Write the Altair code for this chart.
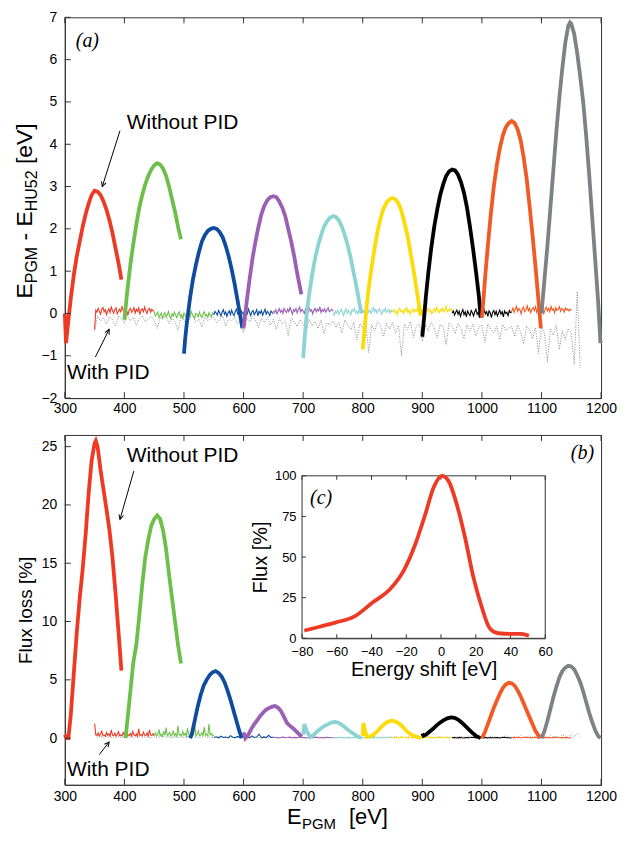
import altair as alt
import pandas as pd

FONT = "Liberation Sans"
SERIF = "Liberation Serif"

# ---------------- axis ticks ----------------
XT = [300, 400, 500, 600, 700, 800, 900, 1000, 1100, 1200]
YT_TOP = [-2, -1, 0, 1, 2, 3, 4, 5, 6, 7]
YT_BOT = [0, 5, 10, 15, 20, 25]
INSET_XT = [-80, -60, -40, -20, 0, 20, 40, 60]
INSET_YT = [0, 25, 50, 75, 100]

SEGS = ["300", "400", "500", "600", "700", "800", "900", "1000", "1100"]
COLORS = ["#ee3a24", "#6dbf4b", "#0f4c9f", "#9b5fb4", "#8dd3d4",
          "#fbdc0a", "#000000", "#f15a24", "#7f8285"]

# ---------------- panel (a): without PID ----------------
A300_X = [300, 302, 305, 310, 315, 320, 325, 330, 335, 340, 345, 350, 355, 360, 365, 370, 375, 380, 385, 390, 395]
A300_Y = [0.0, -0.7, -0.3, 0.35, 0.9, 1.35, 1.7, 2.05, 2.35, 2.6, 2.8, 2.9, 2.88, 2.8, 2.65, 2.45, 2.2, 1.9, 1.55, 1.2, 0.8]
A400_X = [400, 405, 410, 415, 420, 425, 430, 435, 440, 445, 450, 455, 460, 465, 470, 475, 480, 485, 490, 495]
A400_Y = [-0.15, 0.55, 1.15, 1.65, 2.1, 2.5, 2.8, 3.05, 3.25, 3.4, 3.5, 3.55, 3.52, 3.42, 3.25, 3.0, 2.7, 2.4, 2.05, 1.75]
A500_X = [500, 502, 505, 510, 515, 520, 525, 530, 535, 540, 545, 550, 555, 560, 565, 570, 575, 580, 585, 590, 595, 598]
A500_Y = [-0.95, -0.6, -0.2, 0.35, 0.8, 1.15, 1.45, 1.7, 1.85, 1.95, 2.0, 2.02, 2.0, 1.92, 1.8, 1.6, 1.35, 1.05, 0.7, 0.3, -0.1, -0.35]
A600_X = [600, 605, 610, 615, 620, 625, 630, 635, 640, 645, 650, 655, 660, 665, 670, 675, 680, 685, 690, 697]
A600_Y = [-0.35, 0.25, 0.8, 1.3, 1.7, 2.05, 2.35, 2.55, 2.68, 2.75, 2.77, 2.75, 2.65, 2.5, 2.3, 2.0, 1.7, 1.35, 0.95, 0.45]
A700_X = [700, 703, 706, 710, 715, 720, 725, 730, 735, 740, 745, 750, 755, 760, 765, 770, 775, 780, 785, 790, 795, 798]
A700_Y = [-1.05, -0.5, 0.0, 0.45, 0.9, 1.3, 1.6, 1.85, 2.05, 2.18, 2.26, 2.3, 2.28, 2.2, 2.05, 1.85, 1.6, 1.3, 0.95, 0.6, 0.2, 0.0]
A800_X = [800, 803, 806, 810, 815, 820, 825, 830, 835, 840, 845, 850, 855, 860, 865, 870, 875, 880, 885, 890, 895, 898]
A800_Y = [-0.85, -0.4, 0.1, 0.6, 1.1, 1.55, 1.95, 2.25, 2.48, 2.62, 2.7, 2.73, 2.7, 2.6, 2.42, 2.15, 1.85, 1.45, 1.05, 0.6, 0.15, -0.05]
A900_X = [900, 903, 906, 910, 915, 920, 925, 930, 935, 940, 945, 950, 955, 960, 965, 970, 975, 980, 985, 990, 995, 998]
A900_Y = [-0.55, -0.1, 0.4, 0.95, 1.55, 2.05, 2.45, 2.8, 3.05, 3.25, 3.36, 3.4, 3.38, 3.28, 3.1, 2.85, 2.5, 2.05, 1.55, 1.0, 0.4, -0.1]
A1000_X = [1000, 1003, 1006, 1010, 1015, 1020, 1025, 1030, 1035, 1040, 1045, 1050, 1055, 1060, 1065, 1070, 1075, 1080, 1085, 1090, 1095, 1099]
A1000_Y = [-0.1, 0.4, 0.95, 1.6, 2.35, 3.0, 3.5, 3.9, 4.2, 4.4, 4.5, 4.55, 4.5, 4.35, 4.1, 3.7, 3.2, 2.55, 1.85, 1.1, 0.3, -0.35]
A1100_X = [1100, 1105, 1110, 1115, 1120, 1125, 1130, 1135, 1140, 1145, 1148, 1150, 1155, 1160, 1165, 1170, 1175, 1180, 1185, 1190, 1195, 1199]
A1100_Y = [0.0, 0.8, 1.6, 2.5, 3.4, 4.3, 5.1, 5.8, 6.4, 6.8, 6.88, 6.85, 6.6, 6.15, 5.6, 5.0, 4.2, 3.3, 2.3, 1.3, 0.3, -0.7]

# ---------------- panel (a): with PID (noisy traces, E0+50 .. E0+150) ----------------
P300_Y = [-0.38, 0.08, 0.03, 0.12, 0.05, -0.02, 0.10, 0.14, 0.04, 0.09, -0.03, 0.06, 0.11, 0.02, 0.15, 0.07, 0.01, 0.09, 0.13, -0.01, 0.05, 0.10, 0.04, 0.16, 0.08, 0.02, 0.11, 0.06, -0.04, 0.09, 0.12, 0.03, 0.07, 0.14, 0.01, 0.10, 0.05, 0.13, -0.02, 0.08, 0.11, 0.04, 0.15, 0.06, 0.00, 0.09, 0.12, 0.03, 0.10, 0.07, 0.05]
P400_Y = [0.04, -0.06, -0.02, 0.03, -0.09, -0.04, 0.01, -0.11, -0.05, 0.02, -0.08, -0.03, 0.05, -0.07, -0.12, -0.01, -0.06, 0.03, -0.04, -0.10, -0.02, 0.04, -0.07, -0.03, -0.13, 0.01, -0.05, -0.09, 0.02, -0.04, -0.08, 0.05, -0.02, -0.06, -0.11, 0.00, -0.03, -0.08, 0.03, -0.05, -0.10, -0.01, 0.04, -0.06, -0.03, -0.09, 0.02, -0.04, -0.07, 0.01, -0.03]
P500_Y = [-0.03, 0.05, 0.01, -0.04, 0.07, 0.02, -0.06, 0.03, 0.09, -0.02, 0.04, -0.07, 0.01, 0.06, -0.03, 0.08, 0.00, -0.05, 0.05, 0.10, -0.01, 0.03, -0.06, 0.06, 0.02, -0.04, 0.08, 0.01, -0.02, 0.11, 0.03, -0.05, 0.04, 0.07, -0.03, 0.02, 0.09, -0.06, 0.05, 0.00, 0.07, -0.04, 0.03, 0.10, -0.02, 0.05, 0.01, -0.05, 0.06, 0.02, -0.01]
P600_Y = [0.06, 0.02, 0.09, -0.01, 0.05, 0.11, 0.03, 0.08, 0.00, 0.12, 0.06, 0.02, 0.10, 0.04, 0.14, 0.07, -0.02, 0.09, 0.05, 0.12, 0.01, 0.08, 0.15, 0.04, 0.10, 0.06, 0.00, 0.11, 0.07, 0.03, 0.13, 0.05, 0.09, -0.01, 0.08, 0.12, 0.04, 0.10, 0.06, 0.16, 0.02, 0.09, 0.05, 0.11, 0.03, 0.08, 0.13, 0.04, 0.07, 0.10, 0.05]
P700_Y = [0.02, -0.04, 0.05, 0.01, 0.08, -0.02, 0.04, 0.10, 0.03, -0.05, 0.06, 0.11, 0.00, 0.07, 0.03, -0.03, 0.09, 0.05, 0.12, 0.01, 0.06, -0.01, 0.08, 0.04, 0.13, 0.02, 0.07, -0.04, 0.05, 0.10, 0.03, 0.08, 0.00, 0.06, 0.14, 0.04, 0.09, 0.01, 0.07, 0.11, 0.03, -0.02, 0.08, 0.05, 0.12, 0.02, 0.06, 0.09, 0.01, 0.07, 0.04]
P800_Y = [0.03, 0.09, 0.01, 0.06, -0.03, 0.08, 0.12, 0.04, 0.07, 0.00, 0.10, 0.05, 0.14, 0.02, 0.08, -0.02, 0.06, 0.11, 0.03, 0.09, 0.05, 0.13, 0.01, 0.07, 0.10, 0.04, 0.16, 0.06, 0.02, 0.09, 0.12, 0.03, 0.08, -0.01, 0.06, 0.11, 0.04, 0.15, 0.07, 0.02, 0.10, 0.05, 0.13, 0.03, 0.08, 0.17, 0.04, 0.09, 0.06, 0.12, 0.05]
P900_Y = [0.01, 0.06, -0.04, 0.03, 0.08, -0.02, 0.05, -0.07, 0.02, 0.09, -0.03, 0.04, -0.08, 0.06, 0.00, -0.05, 0.07, 0.02, -0.06, 0.04, 0.10, -0.02, 0.03, -0.09, 0.05, 0.01, -0.04, 0.08, -0.01, 0.04, -0.07, 0.06, 0.02, -0.10, 0.03, 0.07, -0.03, 0.05, -0.06, 0.01, 0.08, -0.02, 0.04, -0.08, 0.06, 0.00, 0.03, -0.05, 0.07, 0.02, 0.04]
P1000_Y = [0.06, 0.13, 0.03, 0.10, 0.17, 0.05, 0.12, 0.08, -0.01, 0.11, 0.15, 0.04, 0.09, 0.18, 0.06, 0.12, 0.02, 0.10, 0.14, 0.07, 0.16, 0.03, 0.11, 0.08, 0.19, 0.05, 0.13, 0.00, 0.09, 0.15, 0.06, 0.12, 0.04, 0.17, 0.08, 0.11, 0.02, 0.14, 0.07, 0.10, 0.16, 0.05, 0.12, 0.09, 0.03, 0.13, 0.08, 0.11, 0.06, 0.10, 0.07]
GRAY_TOP_Y = [
    -0.42, -0.05, -0.18, -0.10, -0.25, -0.08, -0.15, -0.30, -0.06, -0.12, -0.22, -0.04, -0.17, -0.09, -0.28, -0.11, -0.05, -0.20, -0.13, -0.07,
    -0.16, -0.35, -0.09, -0.14, -0.06, -0.24, -0.12, -0.19, -0.40, -0.08, -0.15, -0.27, -0.10, -0.05, -0.21, -0.13, -0.32, -0.07, -0.18, -0.11,
    -0.09, -0.23, -0.14, -0.06, -0.30, -0.12, -0.18, -0.08, -0.26, -0.15, -0.45, -0.10, -0.20, -0.07, -0.16, -0.34, -0.11, -0.22, -0.09, -0.28,
    -0.14, -0.38, -0.12, -0.25, -0.18, -0.52, -0.10, -0.20, -0.31, -0.15, -0.24, -0.44, -0.13, -0.29, -0.19, -0.36, -0.16, -0.48, -0.22, -0.27,
    -0.18, -0.33, -0.21, -0.46, -0.15, -0.28, -0.39, -0.20, -0.62, -0.24, -0.35, -0.17, -0.92, -0.26, -0.41, -0.19, -0.30, -0.55, -0.23, -0.37,
    -0.21, -0.46, -0.28, -1.00, -0.25, -0.38, -0.19, -0.57, -0.30, -0.24, -0.66, -0.27, -0.42, -0.20, -0.35, -0.58, -0.26, -0.31, -0.74, -0.22,
    -0.29, -0.48, -0.23, -0.36, -0.60, -0.27, -0.41, -0.25, -0.53, -0.32, -0.28, -0.69, -0.24, -0.38, -0.45, -0.30, -0.62, -0.26, -0.40, -0.34,
    -0.31, -0.55, -0.27, -0.44, -0.72, -0.29, -0.38, -0.60, -0.33, -0.95, -0.30, -0.48, -1.15, -0.35, -0.52, -0.28, -0.85, -0.41, -0.62, -0.36,
    -0.45, -1.20, 0.52, -1.28]

# ---------------- panel (b): without PID ----------------
B300_X = [300, 302, 304, 306, 310, 315, 320, 325, 330, 335, 340, 345, 350, 352, 355, 360, 365, 370, 375, 380, 385, 390, 395]
B300_Y = [0.3, 0.1, 0.0, 0.0, 2.0, 5.5, 9.0, 12.0, 14.5, 17.5, 21.0, 23.8, 25.3, 25.5, 25.0, 23.0, 21.3, 19.6, 17.8, 15.5, 12.5, 9.2, 5.8]
B400_X = [402, 405, 410, 415, 420, 425, 430, 435, 440, 445, 450, 455, 460, 465, 470, 475, 480, 485, 490, 495]
B400_Y = [0.0, 1.5, 4.0, 6.5, 8.0, 10.5, 13.2, 15.5, 17.0, 18.2, 18.8, 19.1, 18.8, 17.8, 16.2, 14.0, 12.0, 10.0, 8.0, 6.4]
B500_X = [510, 513, 518, 523, 528, 533, 538, 543, 548, 553, 558, 563, 568, 573, 578, 583, 588, 593, 597]
B500_Y = [0.0, 0.3, 1.5, 2.7, 3.7, 4.5, 5.0, 5.4, 5.65, 5.75, 5.6, 5.3, 4.8, 4.1, 3.3, 2.4, 1.5, 0.6, 0.0]
B600_X = [600, 603, 608, 613, 618, 623, 628, 633, 638, 643, 648, 653, 658, 663, 668, 673, 678, 683, 688, 693, 698]
B600_Y = [0.5, 0.0, 0.3, 0.8, 1.2, 1.55, 1.9, 2.2, 2.45, 2.6, 2.7, 2.75, 2.6, 2.3, 1.8, 1.3, 1.05, 0.85, 0.6, 0.35, 0.15]
B700_X = [700, 702, 706, 712, 718, 724, 730, 736, 742, 748, 754, 760, 766, 772, 778, 784, 790, 798]
B700_Y = [0.3, 1.2, 0.6, 0.1, 0.3, 0.6, 0.85, 1.05, 1.2, 1.35, 1.4, 1.3, 1.1, 0.85, 0.6, 0.4, 0.2, 0.0]
B800_X = [800, 801, 804, 807, 812, 818, 824, 830, 836, 842, 848, 854, 860, 866, 872, 878, 884, 890, 898]
B800_Y = [0.2, 1.3, 0.6, 0.1, 0.15, 0.3, 0.55, 0.9, 1.2, 1.4, 1.5, 1.45, 1.3, 1.05, 0.7, 0.4, 0.25, 0.12, 0.0]
B900_X = [900, 902, 906, 912, 918, 924, 930, 936, 942, 948, 954, 960, 966, 972, 978, 984, 990, 998]
B900_Y = [0.4, 0.2, 0.3, 0.55, 0.8, 1.1, 1.35, 1.55, 1.7, 1.78, 1.75, 1.6, 1.35, 1.05, 0.75, 0.45, 0.2, 0.0]
B1000_X = [1000, 1005, 1010, 1015, 1020, 1025, 1030, 1035, 1040, 1045, 1050, 1055, 1060, 1065, 1070, 1075, 1080, 1085, 1090, 1098]
B1000_Y = [0.0, 0.5, 1.2, 1.9, 2.6, 3.2, 3.8, 4.3, 4.6, 4.75, 4.7, 4.5, 4.1, 3.6, 3.0, 2.4, 1.8, 1.2, 0.6, 0.0]
B1100_X = [1100, 1105, 1110, 1115, 1120, 1125, 1130, 1135, 1140, 1145, 1150, 1155, 1160, 1165, 1170, 1175, 1180, 1185, 1190, 1195, 1199]
B1100_Y = [0.0, 0.6, 1.5, 2.5, 3.5, 4.4, 5.2, 5.75, 6.05, 6.2, 6.15, 5.9, 5.4, 4.8, 4.0, 3.1, 2.2, 1.4, 0.7, 0.2, 0.0]

# ---------------- panel (b): with PID ----------------
Q300_Y = [1.25, 0.30, 0.22, 0.45, 0.18, 0.35, 0.60, 0.20, 0.28, 0.15, 0.50, 0.24, 0.38, 0.17, 0.72, 0.26, 0.20, 0.42, 0.16, 0.33, 0.55, 0.21, 0.29, 0.18, 0.48, 0.25, 0.65, 0.19, 0.31, 0.22, 0.40, 0.17, 0.58, 0.27, 0.20, 0.36, 0.15, 0.80, 0.24, 0.30, 0.19, 0.52, 0.26, 0.21, 0.44, 0.18, 0.70, 0.28, 0.23, 0.37, 0.20]
Q400_Y = [0.22, 0.45, 0.18, 0.30, 0.75, 0.20, 0.35, 0.16, 0.55, 0.25, 0.90, 0.19, 0.32, 0.48, 0.17, 0.28, 0.65, 0.21, 0.38, 0.15, 1.05, 0.26, 0.33, 0.19, 0.58, 0.24, 0.42, 0.16, 0.85, 0.29, 0.20, 0.50, 0.23, 0.36, 1.15, 0.18, 0.31, 0.62, 0.22, 0.27, 0.45, 0.17, 0.95, 0.25, 0.34, 0.20, 1.20, 0.28, 0.40, 0.19, 0.30]
Q500_Y = [0.05, 0.12, 0.03, 0.18, 0.06, 0.10, 0.02, 0.22, 0.08, 0.04, 0.15, 0.05, 0.30, 0.07, 0.12, 0.03, 0.20, 0.06, 0.09, 0.35, 0.04, 0.11, 0.05, 0.25, 0.06, 0.10]
Q600_Y = [0.04, 0.08, 0.02, 0.06, 0.10, 0.03, 0.05, 0.09, 0.02, 0.07, 0.04, 0.11, 0.03, 0.06, 0.02, 0.08, 0.05, 0.03, 0.09, 0.04, 0.06, 0.02, 0.07, 0.05, 0.03, 0.06]
Q700_Y = [0.03, 0.06, 0.02, 0.08, 0.04, 0.05, 0.02, 0.07, 0.03, 0.09, 0.04, 0.02, 0.06, 0.03, 0.08, 0.05, 0.02, 0.07, 0.04, 0.03, 0.06, 0.02, 0.05, 0.08, 0.03, 0.04]
Q800_Y = [0.04, 0.07, 0.02, 0.05, 0.09, 0.03, 0.06, 0.02, 0.08, 0.04, 0.05, 0.03, 0.07, 0.02, 0.06, 0.10, 0.03, 0.05, 0.02, 0.07, 0.04, 0.06, 0.03, 0.08, 0.02, 0.05]
Q900_Y = [0.03, 0.05, 0.02, 0.07, 0.04, 0.02, 0.06, 0.03, 0.05, 0.08, 0.02, 0.04, 0.06, 0.03, 0.07, 0.02, 0.05, 0.04, 0.03, 0.06, 0.02, 0.05, 0.08, 0.03, 0.04, 0.02]
Q1000_Y = [0.04, 0.06, 0.03, 0.08, 0.02, 0.05, 0.07, 0.03, 0.06, 0.04, 0.09, 0.02, 0.05, 0.03, 0.07, 0.04, 0.06, 0.02, 0.08, 0.05, 0.03, 0.06, 0.04, 0.07, 0.02, 0.05]
GRAY_BOT_Y = [
    0.30, 0.08, 0.12, 0.05, 0.15, 0.07, 0.10, 0.04, 0.13, 0.06, 0.09, 0.18, 0.05, 0.11, 0.07, 0.14, 0.04, 0.10, 0.08, 0.06,
    0.12, 0.05, 0.09, 0.16, 0.06, 0.10, 0.04, 0.13, 0.07, 0.11, 0.05, 0.15, 0.08, 0.06, 0.12, 0.04, 0.10, 0.14, 0.07, 0.09,
    0.05, 0.08, 0.03, 0.10, 0.06, 0.04, 0.09, 0.05, 0.12, 0.03, 0.07, 0.05, 0.10, 0.04, 0.08, 0.06, 0.03, 0.09, 0.05, 0.07,
    0.04, 0.07, 0.03, 0.06, 0.09, 0.04, 0.05, 0.08, 0.03, 0.06, 0.10, 0.04, 0.07, 0.05, 0.03, 0.08, 0.06, 0.04, 0.09, 0.05,
    0.06, 0.04, 0.08, 0.05, 0.03, 0.10, 0.06, 0.04, 0.07, 0.12, 0.05, 0.08, 0.04, 0.06, 0.14, 0.05, 0.09, 0.07, 0.04, 0.11,
    0.07, 0.15, 0.05, 0.09, 0.06, 0.12, 0.08, 0.05, 0.18, 0.07, 0.10, 0.06, 0.13, 0.08, 0.05, 0.11, 0.16, 0.06, 0.09, 0.07,
    0.08, 0.12, 0.06, 0.15, 0.09, 0.07, 0.20, 0.08, 0.11, 0.06, 0.14, 0.09, 0.07, 0.17, 0.08, 0.12, 0.06, 0.10, 0.22, 0.08,
    0.09, 0.14, 0.07, 0.25, 0.10, 0.08, 0.18, 0.11, 0.07, 0.28, 0.09, 0.13, 0.08, 0.22, 0.10, 0.16, 0.07, 0.30, 0.12, 0.09,
    0.35, 0.12, 0.42, 0.15]

# ---------------- panel (c) ----------------
INSET_X = [-78.7, -70, -60.5, -50, -39.6, -29, -21.4, -14.7, -9, -4.2, 0.5, 4.3, 9, 13.8, 18.6, 23.4, 28.1, 32.9, 40.5, 46.2, 50.6]
INSET_Y = [4.7, 7.1, 9.8, 13.3, 21.8, 30.6, 41.8, 58.2, 76.5, 92.9, 100, 96.9, 82.7, 62.2, 37.8, 19.4, 6.1, 3.1, 2.7, 2.7, 1.6]


# ---------------- build tables ----------------
def seg_frame(pairs):
    rows = []
    for name, xs, ys in pairs:
        rows.append(pd.DataFrame({"x": xs, "y": ys, "seg": name}))
    return pd.concat(rows, ignore_index=True)


def pid_frame(pairs):
    # each with-PID trace covers E0+50 .. E0+150 eV, samples evenly spread
    rows = []
    for name, ys in pairs:
        e0 = int(name)
        n = len(ys)
        xs = [e0 + 50 + 100.0 * i / (n - 1) for i in range(n)]
        rows.append(pd.DataFrame({"x": xs, "y": ys, "seg": name}))
    return pd.concat(rows, ignore_index=True)


def gray_frame(ys):
    return pd.DataFrame({"x": [350 + 5 * i for i in range(len(ys))], "y": ys})


arch_a = seg_frame([("300", A300_X, A300_Y), ("400", A400_X, A400_Y), ("500", A500_X, A500_Y),
                    ("600", A600_X, A600_Y), ("700", A700_X, A700_Y), ("800", A800_X, A800_Y),
                    ("900", A900_X, A900_Y), ("1000", A1000_X, A1000_Y), ("1100", A1100_X, A1100_Y)])
pid_a = pid_frame([("300", P300_Y), ("400", P400_Y), ("500", P500_Y), ("600", P600_Y),
                   ("700", P700_Y), ("800", P800_Y), ("900", P900_Y), ("1000", P1000_Y)])
gray_a = gray_frame(GRAY_TOP_Y)

arch_b = seg_frame([("300", B300_X, B300_Y), ("400", B400_X, B400_Y), ("500", B500_X, B500_Y),
                    ("600", B600_X, B600_Y), ("700", B700_X, B700_Y), ("800", B800_X, B800_Y),
                    ("900", B900_X, B900_Y), ("1000", B1000_X, B1000_Y), ("1100", B1100_X, B1100_Y)])
pid_b = pid_frame([("300", Q300_Y), ("400", Q400_Y), ("500", Q500_Y), ("600", Q600_Y),
                   ("700", Q700_Y), ("800", Q800_Y), ("900", Q900_Y), ("1000", Q1000_Y)])
gray_b = gray_frame(GRAY_BOT_Y)

inset_df = pd.DataFrame({"x": INSET_X, "y": INSET_Y})
xt_df = pd.DataFrame({"t": XT})
yt_top_df = pd.DataFrame({"t": YT_TOP})
yt_bot_df = pd.DataFrame({"t": YT_BOT})
ixt_df = pd.DataFrame({"t": INSET_XT})
iyt_df = pd.DataFrame({"t": INSET_YT})
one = pd.DataFrame({"a": [0]})

W, H_TOP, H_BOT = 538, 382, 351
IN_L, IN_R, IN_T, IN_B = 238, 482, 41, 204   # inset frame inside panel (b), pixels

color = alt.Color("seg:N", scale=alt.Scale(domain=SEGS, range=COLORS), legend=None)

# ---------------- scales / axes ----------------
xs_main = alt.Scale(domain=[300, 1200], nice=False, zero=False, padding=0)
ax_top = alt.Axis(values=XT, format="d", title=None, labelPadding=3, labelFlush=False)
ax_bot = alt.Axis(values=XT, format="d", title=None, labelPadding=5, labelFlush=False)
ys_top = alt.Scale(domain=[-2, 7], nice=False, zero=False, padding=0)
ay_top = alt.Axis(values=YT_TOP, title=None, labelPadding=8, labelFlush=False)
ys_bot = alt.Scale(domain=[-4, 26], nice=False, zero=False, padding=0)
ay_bot = alt.Axis(values=YT_BOT, title="Flux loss [%]", titleFontSize=19, titlePadding=6,
                  labelPadding=8, labelFlush=False)

ixs = alt.Scale(domain=[-80, 60], range=[IN_L, IN_R], nice=False, zero=False, padding=0)
iys = alt.Scale(domain=[0, 100], range=[IN_B, IN_T], nice=False, zero=False, padding=0)
iax = alt.Axis(values=INSET_XT, format="d", orient="bottom", offset=-(H_BOT - IN_B), title="Energy shift [eV]",
               titleFontSize=20, labelFontSize=13, labelPadding=7, titlePadding=1, labelFlush=False)
iay = alt.Axis(values=INSET_YT, orient="left", offset=-IN_L, title="Flux [%]",
               titleFontSize=20, labelFontSize=13, labelPadding=6, titlePadding=4, labelFlush=False)


def X(f, s, a):
    return alt.X(f"{f}:Q", scale=s, axis=a)


def Y(f, s, a):
    return alt.Y(f"{f}:Q", scale=s, axis=a)


def XD(v, s, a):
    return alt.XDatum(v, type="quantitative", scale=s, axis=a)


def YD(v, s, a):
    return alt.YDatum(v, type="quantitative", scale=s, axis=a)


def txt(s, x, y, size, angle=0, align="left", font=FONT, style="normal"):
    return alt.Chart(one).mark_text(text=s, fontSize=size, angle=angle, align=align,
                                    baseline="alphabetic", font=font, fontStyle=style,
                                    color="black").encode(x=alt.value(x), y=alt.value(y))


ARROW = "M-0.45,0.9L0,0L0.45,0.9"


def arrow(x0, y0, x1, y1, ang, xs, xa, ys, ya):
    line = alt.Chart(one).mark_rule(color="black", strokeWidth=1).encode(
        x=XD(x0, xs, xa), y=YD(y0, ys, ya), x2=alt.X2Datum(x1), y2=alt.Y2Datum(y1))
    head = alt.Chart(one).mark_point(shape=ARROW, size=110, angle=ang, filled=False,
                                     stroke="black", strokeWidth=1, opacity=1).encode(
        x=XD(x1, xs, xa), y=YD(y1, ys, ya))
    return [line, head]


def label(s, x, y, xs, xa, ys, ya):
    return alt.Chart(one).mark_text(text=s, fontSize=21, align="left", baseline="alphabetic",
                                    font=FONT, color="black").encode(
        x=XD(x, xs, xa), y=YD(y, ys, ya))


def frame_ticks(xs, xa, ys, ya, ytdf, h):
    return [
        alt.Chart(xt_df).mark_rule(color="#333").encode(x=X("t", xs, xa), y=alt.value(h), y2=alt.value(h - 6)),
        alt.Chart(xt_df).mark_rule(color="#333").encode(x=X("t", xs, xa), y=alt.value(0), y2=alt.value(6)),
        alt.Chart(ytdf).mark_rule(color="#333").encode(y=Y("t", ys, ya), x=alt.value(0), x2=alt.value(6)),
    ]


# ---------------- panel (a) ----------------
top_layers = [
    alt.Chart(gray_a).mark_line(color="#8a8a8a", strokeWidth=1, strokeDash=[1, 1.5]).encode(
        x=X("x", xs_main, ax_top), y=Y("y", ys_top, ay_top)),
    alt.Chart(pid_a).mark_line(strokeWidth=1.1).encode(
        x=X("x", xs_main, ax_top), y=Y("y", ys_top, ay_top), color=color),
    alt.Chart(arch_a).mark_line(strokeWidth=3.8).encode(
        x=X("x", xs_main, ax_top), y=Y("y", ys_top, ay_top), color=color),
]
top_layers += frame_ticks(xs_main, ax_top, ys_top, ay_top, yt_top_df, H_TOP)
top_layers += [label("Without PID", 404, 4.37, xs_main, ax_top, ys_top, ay_top),
               label("With PID", 303.6, -1.55, xs_main, ax_top, ys_top, ay_top)]
top_layers += arrow(392.6, 4.32, 362.9, 3.0, 197.8, xs_main, ax_top, ys_top, ay_top)
top_layers += arrow(351.3, -1.03, 374.4, -0.376, 26.6, xs_main, ax_top, ys_top, ay_top)
top_layers += [
    txt("E", -33, 282, 23, angle=270),
    txt("PGM", -28, 266.7, 16, angle=270),
    txt("-", -33, 223.9, 23, angle=270),
    txt("E", -33, 209.9, 23, angle=270),
    txt("HU52", -28, 194.5, 16, angle=270),
    txt("[eV]", -33, 147.2, 23, angle=270),
    txt("(a)", 11, 30, 20, font=SERIF, style="italic"),
]
top = alt.layer(*top_layers).properties(width=W, height=H_TOP)

# ---------------- panel (b) ----------------
main_layers = [
    alt.Chart(gray_b).mark_line(color="#9a9a9a", strokeWidth=1, strokeDash=[1, 1.5]).encode(
        x=X("x", xs_main, ax_bot), y=Y("y", ys_bot, ay_bot)),
    alt.Chart(pid_b).mark_line(strokeWidth=1.1).encode(
        x=X("x", xs_main, ax_bot), y=Y("y", ys_bot, ay_bot), color=color),
    alt.Chart(arch_b).mark_line(strokeWidth=3.8).encode(
        x=X("x", xs_main, ax_bot), y=Y("y", ys_bot, ay_bot), color=color),
]
main_layers += frame_ticks(xs_main, ax_bot, ys_bot, ay_bot, yt_bot_df, H_BOT)
main_layers += [label("Without PID", 404, 23.65, xs_main, ax_bot, ys_bot, ay_bot),
                label("With PID", 303.6, -3.24, xs_main, ax_bot, ys_bot, ay_bot)]
main_layers += arrow(415.8, 22.9, 392.6, 18.76, 195.6, xs_main, ax_bot, ys_bot, ay_bot)
main_layers += arrow(357.9, -1.41, 374.4, -0.33, 37.6, xs_main, ax_bot, ys_bot, ay_bot)
main_layers += [
    txt("E", 223, H_BOT + 39, 22),
    txt("PGM", 238, H_BOT + 44, 15),
    txt("[eV]", 285, H_BOT + 39, 22),
    txt("(b)", W - 7, 24, 20, align="right", font=SERIF, style="italic"),
]
main_group = alt.layer(*main_layers)

inset_layers = [
    alt.Chart(one).mark_rect(fill="white", stroke="#333", strokeWidth=1).encode(
        x=XD(-80, ixs, iax), x2=alt.X2Datum(60), y=YD(0, iys, iay), y2=alt.Y2Datum(100)),
    alt.Chart(ixt_df).mark_rule(color="#333").encode(x=X("t", ixs, iax), y=alt.value(IN_B), y2=alt.value(IN_B - 4)),
    alt.Chart(ixt_df).mark_rule(color="#333").encode(x=X("t", ixs, iax), y=alt.value(IN_T), y2=alt.value(IN_T + 4)),
    alt.Chart(iyt_df).mark_rule(color="#333").encode(y=Y("t", iys, iay), x=alt.value(IN_L), x2=alt.value(IN_L + 4)),
    alt.Chart(inset_df).mark_line(color="#ee3a24", strokeWidth=3.8, interpolate="monotone").encode(
        x=X("x", ixs, iax), y=Y("y", iys, iay)),
    txt("(c)", IN_L + 8, IN_T + 28, 20, font=SERIF, style="italic"),
]
inset_group = alt.layer(*inset_layers)

bottom = alt.layer(main_group, inset_group).resolve_scale(
    x="independent", y="independent").properties(width=W, height=H_BOT)

chart = alt.vconcat(top, bottom, spacing=16).properties(
    padding={"left": 5, "top": 0, "right": 0, "bottom": 0}
).configure_view(stroke="#333", strokeWidth=1).configure_axis(
    grid=False, ticks=False, domainColor="#333", domainWidth=1, labelFlush=False,
    labelFont=FONT, titleFont=FONT, labelColor="black", titleColor="black",
    titleFontWeight="normal", labelFontSize=14
).configure_text(font=FONT)

chart.save("out.html", embed_options={"renderer": "svg", "actions": False})
